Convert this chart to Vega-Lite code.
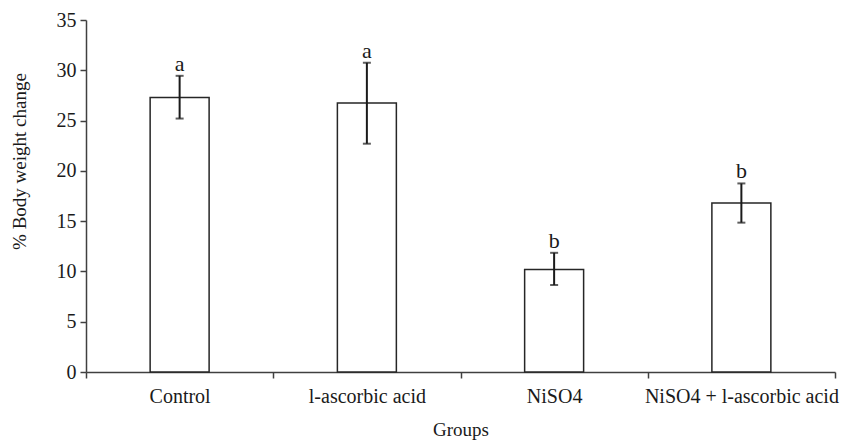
{
  "$schema": "https://vega.github.io/schema/vega-lite/v6.json",
  "autosize": "none",
  "width": 749,
  "height": 352,
  "padding": {"left": 86, "top": 20, "right": 6, "bottom": 72},
  "background": "white",
  "config": {
    "view": {"stroke": null},
    "font": "Liberation Serif",
    "axis": {"labelFont": "Liberation Serif", "titleFont": "Liberation Serif", "labelColor": "#1a1a1a", "titleColor": "#1a1a1a", "domainColor": "#404040", "tickColor": "#404040", "grid": false}
  },
  "data": {
    "values": [
      {"group": "Control", "mean": 27.3, "lo": 25.2, "hi": 29.45, "letter": "a"},
      {"group": "l-ascorbic acid", "mean": 26.75, "lo": 22.7, "hi": 30.75, "letter": "a"},
      {"group": "NiSO4", "mean": 10.2, "lo": 8.65, "hi": 11.85, "letter": "b"},
      {"group": "NiSO4 + l-ascorbic acid", "mean": 16.8, "lo": 14.85, "hi": 18.75, "letter": "b"}
    ]
  },
  "encoding": {
    "x": {
      "field": "group", "type": "nominal", "sort": null,
      "scale": {"paddingInner": 0, "paddingOuter": 0},
      "axis": {"title": "Groups", "labelAngle": 0, "labelFontSize": 20, "labelLimit": 0, "titleFontSize": 19, "titleFontWeight": "normal", "tickBand": "extent", "tickSize": 6, "labelPadding": 8, "titlePadding": 14, "domainWidth": 1.5, "tickWidth": 1.5}
    }
  },
  "layer": [
    {
      "mark": {"type": "bar", "fill": "white", "stroke": "#262626", "strokeWidth": 1.5, "width": {"band": 0.315}},
      "encoding": {
        "y": {"field": "mean", "type": "quantitative",
          "scale": {"domain": [0, 35]},
          "axis": {"title": "% Body weight change", "values": [0, 5, 10, 15, 20, 25, 30, 35], "labelFontSize": 20, "titleFontSize": 19, "titleFontWeight": "normal", "titleX": -67, "titleY": 141, "titleBaseline": "middle", "titleAlign": "center", "titleAngle": -90, "tickSize": 6, "labelPadding": 4, "domainWidth": 1.5, "tickWidth": 1.5}
        }
      }
    },
    {
      "mark": {"type": "rule", "stroke": "#1a1a1a", "strokeWidth": 2},
      "encoding": {"y": {"field": "lo", "type": "quantitative"}, "y2": {"field": "hi"}}
    },
    {
      "mark": {"type": "tick", "color": "#1a1a1a", "thickness": 2, "size": 8},
      "encoding": {"y": {"field": "lo", "type": "quantitative"}}
    },
    {
      "mark": {"type": "tick", "color": "#1a1a1a", "thickness": 2, "size": 8},
      "encoding": {"y": {"field": "hi", "type": "quantitative"}}
    },
    {
      "mark": {"type": "text", "fontSize": 22, "font": "Liberation Serif", "baseline": "alphabetic", "dy": -5, "color": "#1a1a1a"},
      "encoding": {"y": {"field": "hi", "type": "quantitative"}, "text": {"field": "letter"}}
    }
  ]
}
